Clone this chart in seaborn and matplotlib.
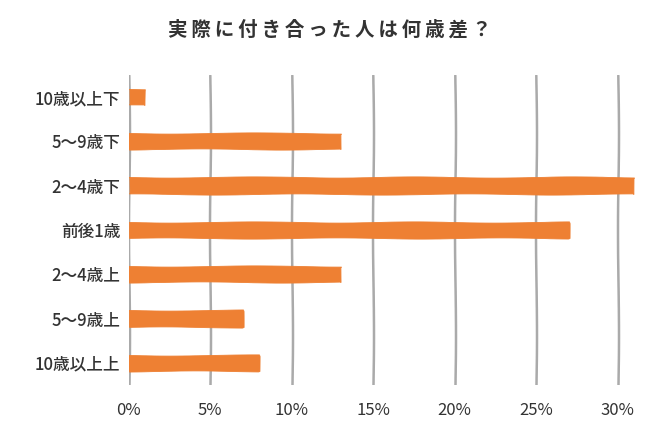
import matplotlib
matplotlib.use("Agg")
import matplotlib.pyplot as plt
import seaborn as sns
import pandas as pd

# ── data ──────────────────────────────────────────────────────────────────────
labels = ["10歳以上下", "5〜9歳下", "2〜4歳下", "前後1歳", "2〜4歳上", "5〜9歳上", "10歳以上上"]
values = [1, 13, 31, 27, 13, 7, 8]
ticks = [0, 5, 10, 15, 20, 25, 30]
tick_labels = ["0%", "5%", "10%", "15%", "20%", "25%", "30%"]

df = pd.DataFrame({"label": labels, "value": values})

sns.set_theme(style="white")
plt.rcParams["font.family"] = ["Noto Sans CJK JP", "DejaVu Sans"]

fig = plt.figure(figsize=(6.6, 4.4), dpi=100)
ax = fig.add_axes([0.195, 0.125, 0.783, 0.705])

sns.barplot(data=df, x="value", y="label", orient="h", color="#EE8033",
            saturation=1, width=0.37, ax=ax)

# slightly hand-drawn look
for p in ax.patches:
    p.set_sketch_params(scale=0.6, length=180, randomness=2)
    p.set_edgecolor("#EE8033")
    p.set_linewidth(0.6)

ax.set_xlim(0, 31.7)
ax.set_ylim(6.5, -0.5)
ax.set_xticks(ticks)
ax.set_xticklabels(tick_labels)
ax.grid(axis="x", color="#aaaaaa", linewidth=1.8)
for gl in ax.get_xgridlines():
    gl.set_sketch_params(scale=0.5, length=220, randomness=2)
ax.set_axisbelow(True)

for s in ax.spines.values():
    s.set_visible(False)
ax.tick_params(axis="both", length=0, colors="#333333", labelsize=12)
ax.tick_params(axis="x", pad=12)
ax.tick_params(axis="y", pad=6)
for t in ax.get_yticklabels():
    t.set_fontweight("medium")
ax.set_xlabel("")
ax.set_ylabel("")

fig.suptitle("実 際 に 付 き 合 っ た 人 は 何 歳 差 ？".replace(" ", "\u2009"), y=0.955,
             fontsize=14, color="#333333", fontweight="bold")

fig.savefig("out.png", dpi=100)
